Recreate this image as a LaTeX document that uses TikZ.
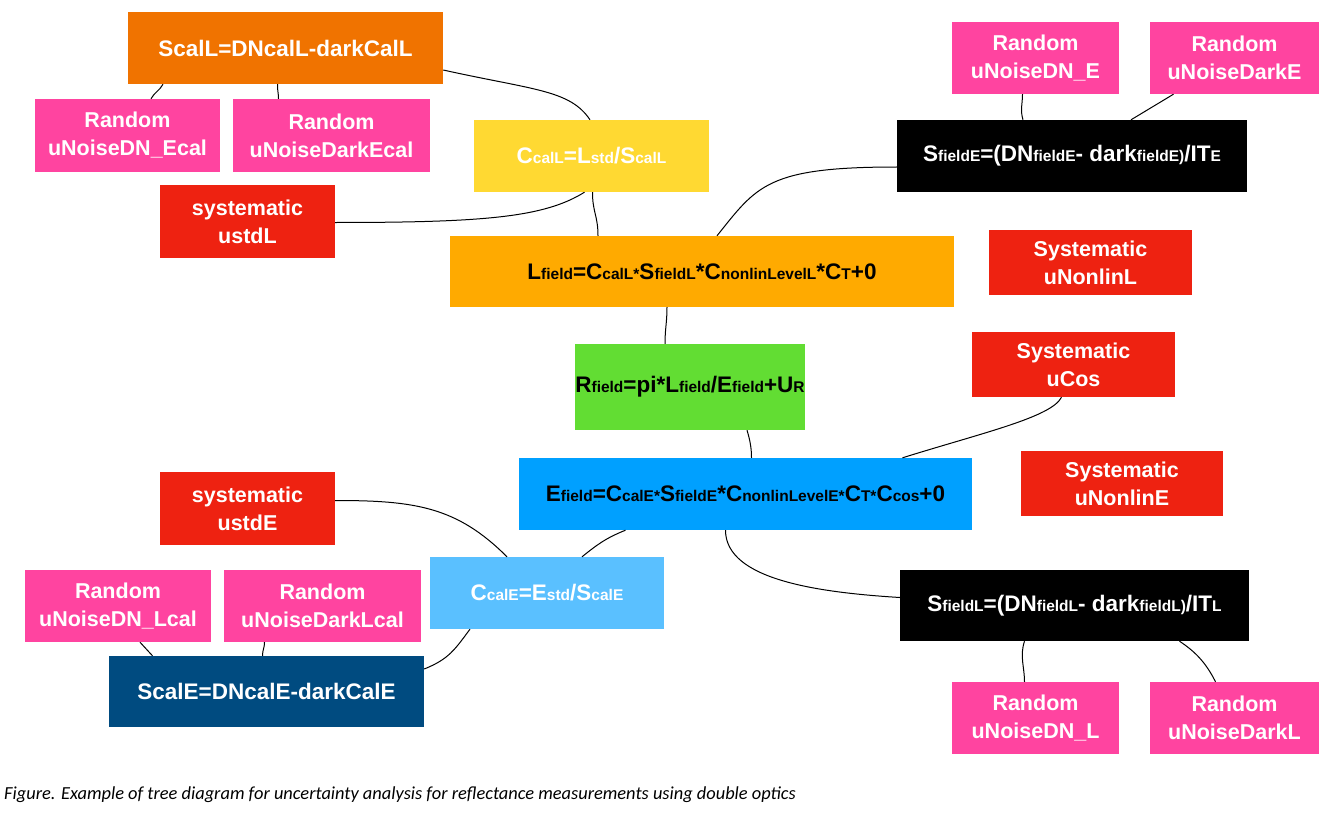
\documentclass[tikz,border=0pt]{standalone}
\usepackage{fontspec}
\setmainfont{Liberation Sans}
\newfontfamily\capfont{Carlito}
\usetikzlibrary{positioning}
\definecolor{CalOrange}{RGB}{240,115,0}
\definecolor{NoisePink}{RGB}{255,68,160}
\definecolor{CalYellow}{RGB}{255,217,50}
\definecolor{SysRed}{RGB}{238,34,17}
\definecolor{FieldOrange}{RGB}{255,170,0}
\definecolor{FieldGreen}{RGB}{98,221,51}
\definecolor{FieldBlue}{RGB}{0,160,255}
\definecolor{CalBlue}{RGB}{90,192,255}
\definecolor{CalNavy}{RGB}{0,75,128}
\newcommand\lo[1]{{\fontsize{15.5}{15.5}\selectfont #1}}

\begin{document}
\begin{tikzpicture}[x=1pt, y=-1pt,
    box/.style={rectangle, inner sep=0pt, minimum height=72pt, align=center, text=white,
        font=\fontsize{21.5}{28}\selectfont\bfseries},
    bigbox/.style={box, font=\fontsize{22.5}{28}\selectfont\bfseries},
    formula/.style={box, text=black, font=\fontsize{22.5}{27}\selectfont\bfseries},
    link/.style={draw=black, line width=1pt}]
    \useasboundingbox[fill=white] (0,0) rectangle (1339,824);

    % calibration of L
    \node[bigbox, fill=CalOrange, minimum width=315pt] (scall) at (285.5,48) {ScalL=DNcalL-darkCalL};
    \node[box, fill=NoisePink, minimum width=185pt, minimum height=73pt] (dnecal) at (127.5,135.5) {Random\\uNoiseDN\_Ecal};
    \node[box, fill=NoisePink, minimum width=197pt, minimum height=73pt] (darkecal) at (331.5,135.5) {Random\\uNoiseDarkEcal};
    \node[formula, text=white, fill=CalYellow, minimum width=235pt] (ccall) at (591.5,156) {C\lo{calL}=L\lo{std}/S\lo{calL}};
    \node[box, fill=SysRed, minimum width=175pt, minimum height=73pt] (ustdl) at (247.5,221.5) {systematic\\ustdL};

    % field of L
    \node[formula, fill=FieldOrange, minimum width=504pt, minimum height=71pt] (lfield) at (702,271.5)
        {L\lo{field}=C\lo{calL*}S\lo{fieldL}*C\lo{nonlinLevelL}*C\lo{T}+0};
    \node[formula, text=white, fill=black, minimum width=350pt] (sfielde) at (1072,156)
        {S\lo{fieldE}=(DN\lo{fieldE}- dark\lo{fieldE)}/IT\lo{E}};
    \node[box, fill=NoisePink, minimum width=167pt] (dne) at (1035.5,58) {Random\\uNoiseDN\_E};
    \node[box, fill=NoisePink, minimum width=169pt] (darke) at (1234.5,58) {Random\\uNoiseDarkE};
    \node[box, fill=SysRed, minimum width=203pt, minimum height=65pt] (nonlinl) at (1090.5,262.5) {Systematic\\uNonlinL};

    % reflectance
    \node[formula, fill=FieldGreen, minimum width=230pt, minimum height=86pt] (rfield) at (690,387)
        {R\lo{field}=pi*L\lo{field}/E\lo{field}+U\lo{R}};
    \node[box, fill=SysRed, minimum width=203pt, minimum height=65pt] (ucos) at (1073.5,364.5) {Systematic\\uCos};

    % field of E
    \node[formula, fill=FieldBlue, minimum width=453pt] (efield) at (745.5,494)
        {E\lo{field}=C\lo{calE*}S\lo{fieldE}*C\lo{nonlinLevelE*}C\lo{T*}C\lo{cos}+0};
    \node[box, fill=SysRed, minimum width=202pt, minimum height=65pt] (nonline) at (1122,483.5) {Systematic\\uNonlinE};
    \node[formula, text=white, fill=black, minimum width=349pt, minimum height=71pt] (sfieldl) at (1074.5,605.5)
        {S\lo{fieldL}=(DN\lo{fieldL}- dark\lo{fieldL)}/IT\lo{L}};
    \node[box, fill=NoisePink, minimum width=167pt] (dnl) at (1035.5,718) {Random\\uNoiseDN\_L};
    \node[box, fill=NoisePink, minimum width=169pt] (darkl) at (1234.5,718) {Random\\uNoiseDarkL};

    % calibration of E
    \node[box, fill=SysRed, minimum width=175pt, minimum height=73pt] (ustde) at (247.5,508.5) {systematic\\ustdE};
    \node[formula, text=white, fill=CalBlue, minimum width=234pt] (ccale) at (547,593) {C\lo{calE}=E\lo{std}/S\lo{calE}};
    \node[box, fill=NoisePink, minimum width=186pt] (dnlcal) at (118,606) {Random\\uNoiseDN\_Lcal};
    \node[box, fill=NoisePink, minimum width=197pt] (darklcal) at (322.5,606) {Random\\uNoiseDarkLcal};
    \node[bigbox, fill=CalNavy, minimum width=315pt, minimum height=71pt] (scale) at (266.5,691.5) {ScalE=DNcalE-darkCalE};

    \node[anchor=west, inner sep=0pt, font=\capfont\itshape\fontsize{18.4}{22}\selectfont] (caption) at (4,795)
        {Figure. Example of tree diagram for uncertainty analysis for reflectance measurements using double optics};

    % connectors
    \draw[link] ([yshift=-22pt]scall.east) .. controls +(90,20) and +(-20,-30) .. ([xshift=-1.5pt]ccall.north);
    \draw[link] ([xshift=-122.5pt]scall.south) .. controls +(-3,6) and +(3,-6) .. ([xshift=23.5pt]dnecal.north);
    \draw[link] ([xshift=-8pt]scall.south) .. controls +(0,8) and +(0,-6) .. ([xshift=-53pt]darkecal.north);
    \draw[link] ([xshift=-7pt]ccall.south) .. controls +(-40,25) and +(150,0) .. ([yshift=-1pt]ustdl.east);
    \draw[link] ([xshift=1pt]ccall.south) .. controls +(0,20) and +(0,-20) .. ([xshift=-104pt]lfield.north);
    \draw[link] ([yshift=-11pt]sfielde.west) .. controls +(-130,0) and +(40,-50) .. ([xshift=15pt]lfield.north);
    \draw[link] ([xshift=-49pt]sfielde.north) .. controls +(-3,-10) and +(0,10) .. ([xshift=-13pt]dne.south);
    \draw[link] ([xshift=59pt]sfielde.north) -- ([xshift=-61pt]darke.south);
    \draw[link] ([xshift=-35pt]lfield.south) .. controls +(0,15) and +(0,-15) .. ([xshift=-25pt]rfield.north);
    \draw[link] ([xshift=57pt]rfield.south) .. controls +(3,10) and +(0,-10) .. ([xshift=6pt]efield.north);
    \draw[link] ([xshift=157pt]efield.north) .. controls +(80,-25) and +(-10,20) .. ([xshift=-12pt]ucos.south);
    \draw[link] ([xshift=-120pt]efield.south) .. controls +(-20,8) and +(15,-12) .. ([xshift=35pt]ccale.north);
    \draw[link] ([xshift=-40pt]ccale.north) .. controls +(-50,-50) and +(80,0) .. ([yshift=8pt]ustde.east);
    \draw[link] ([xshift=-77pt]ccale.south) .. controls +(-15,20) and +(25,-10) .. ([yshift=22.5pt]scale.east);
    \draw[link] ([xshift=-114pt]scale.north) -- ([xshift=22pt]dnlcal.south);
    \draw[link] ([xshift=-4pt]scale.north) .. controls +(0,-6) and +(0,6) .. ([xshift=-58pt]darklcal.south);
    \draw[link] ([xshift=-20pt]efield.south) .. controls +(0,50) and +(-80,-5) .. ([yshift=8pt]sfieldl.west);
    \draw[link] ([xshift=-50pt]sfieldl.south) .. controls +(-5,15) and +(0,-15) .. ([xshift=-11pt]dnl.north);
    \draw[link] ([xshift=105pt]sfieldl.south) .. controls +(15,10) and +(-10,-20) .. ([xshift=-19pt]darkl.north);
\end{tikzpicture}
\end{document}
